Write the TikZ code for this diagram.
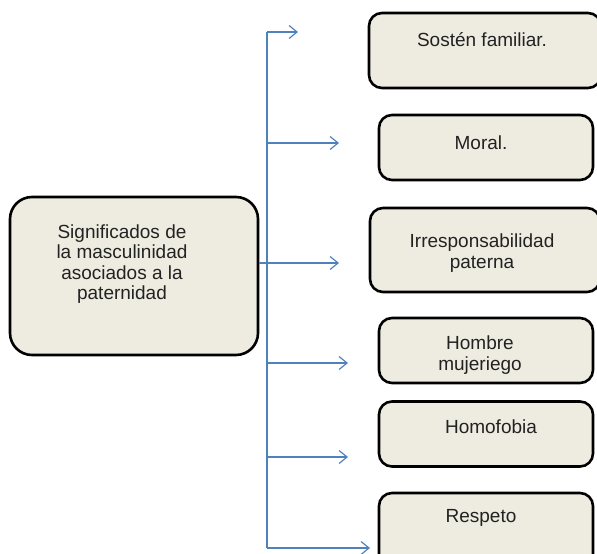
\documentclass[tikz,border=0pt]{standalone}
\usepackage{fontspec}
\setmainfont{Liberation Sans}
\usetikzlibrary{arrows.meta}
\definecolor{boxfill}{HTML}{EEECE1}
\definecolor{linkblue}{HTML}{4F81BD}
\definecolor{txtgray}{HTML}{222222}
\tikzset{
  box/.style={draw=black, line width=2.6pt, fill=boxfill, rounded corners=13pt, inner sep=0pt},
  bigbox/.style={box, rounded corners=22pt},
  txt/.style={align=center, text=txtgray, font=\fontsize{19}{20.5}\selectfont, inner sep=0pt},
  conn/.style={draw=linkblue, line width=1.2pt, -{Straight Barb[length=8pt,width=13pt,line width=1.2pt]}},
  trunk/.style={draw=linkblue, line width=1.2pt},
}
\begin{document}
\begin{tikzpicture}[x=1pt,y=-1pt]
\useasboundingbox (0,0) rectangle (597,554);
\clip (0,0) rectangle (597,554);
% main box
\node[bigbox, minimum width=248pt, minimum height=158pt] (main) at (134,276) {};
\node[txt] (maint) at (122,264) {Significados de\\la masculinidad\\asociados a la\\paternidad};
% right boxes
\node[box, minimum width=232pt, minimum height=75pt] (b1) at (485,50.5) {};
\node[txt] (t1) at (482,40) {Sostén familiar.};
\node[box, minimum width=214pt, minimum height=65pt] (b2) at (486,147.5) {};
\node[txt] (t2) at (481,143) {Moral.};
\node[box, minimum width=230pt, minimum height=84pt] (b3) at (485,250) {};
\node[txt] (t3) at (482,253) {Irresponsabilidad\\paterna};
\node[box, minimum width=214pt, minimum height=65pt] (b4) at (486,350.5) {};
\node[txt] (t4) at (480,355) {Hombre\\mujeriego};
\node[box, minimum width=214pt, minimum height=65pt] (b5) at (486,434) {};
\node[txt] (t5) at (491,427) {Homofobia};
\node[box, minimum width=214pt, minimum height=80pt] (b6) at (486,533) {};
\node[txt] (t6) at (481,518) {Respeto};
% connectors
\coordinate (top) at (267,32);
\coordinate (bot) at (267,548);
\coordinate (e1) at (298,32);
\coordinate (e2) at (339,143);
\coordinate (e3) at (339,263);
\coordinate (e4) at (348,363);
\coordinate (e5) at (348,457);
\coordinate (e6) at (370,548);
\draw[trunk] (top) -- (bot);
\draw[conn] (top) -- (e1);
\draw[conn] (top |- e2) -- (e2);
\draw[conn] (main.east |- e3) -- (e3);
\draw[conn] (top |- e4) -- (e4);
\draw[conn] (top |- e5) -- (e5);
\draw[conn] (bot) -- (e6);
\end{tikzpicture}
\end{document}
